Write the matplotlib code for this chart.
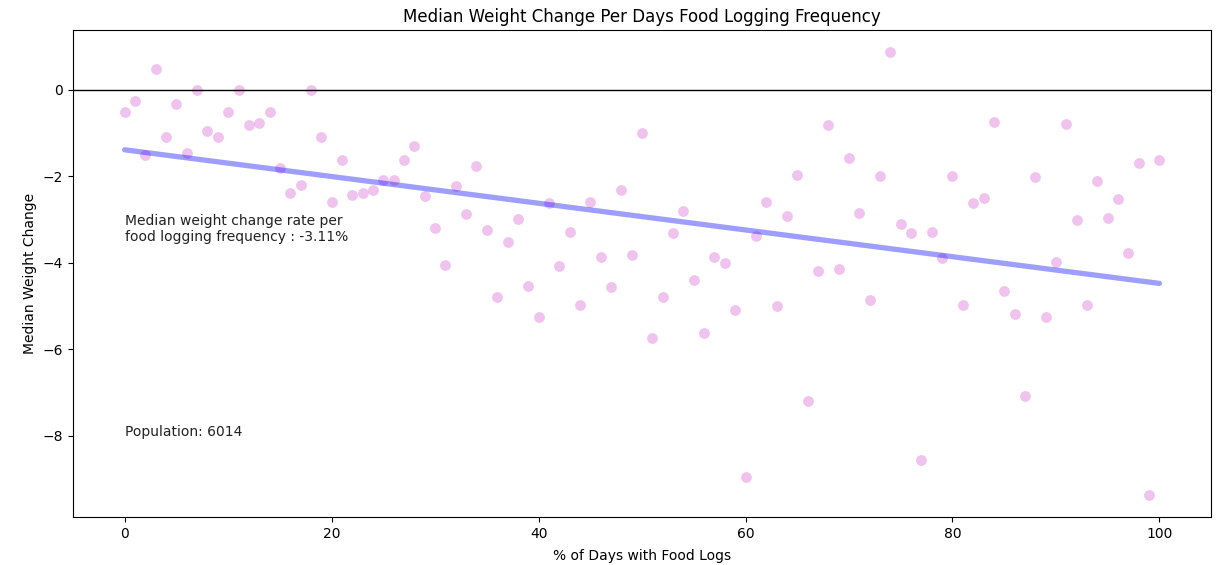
import numpy as np
import matplotlib
matplotlib.use("Agg")
import matplotlib.pyplot as plt

# % of days with food logs (0..100) and median weight change
days_pct = list(range(0, 101))
median_change = [
    -0.51, -0.25, -1.51, 0.49, -1.10, -0.32, -1.47, 0.00, -0.96, -1.10,
    -0.51, 0.00, -0.81, -0.76, -0.51, -1.81, -2.40, -2.20, 0.00, -1.10,
    -2.59, -1.62, -2.44, -2.39, -2.33, -2.08, -2.10, -1.62, -1.30, -2.47,
    -3.19, -4.05, -2.22, -2.88, -1.76, -3.25, -4.80, -3.52, -3.00, -4.54,
    -5.25, -2.61, -4.08, -3.30, -4.98, -2.59, -3.86, -4.57, -2.32, -3.83,
    -1.00, -5.74, -4.79, -3.32, -2.81, -4.39, -5.62, -3.88, -4.01, -5.10,
    -8.96, -3.39, -2.59, -5.00, -2.91, -1.98, -7.20, -4.20, -0.81, -4.15,
    -1.59, -2.85, -4.86, -2.00, 0.87, -3.10, -3.32, -8.57, -3.30, -3.90,
    -2.00, -4.98, -2.61, -2.50, -0.74, -4.66, -5.18, -7.08, -2.01, -5.25,
    -3.99, -0.79, -3.01, -4.98, -2.11, -2.96, -2.52, -3.78, -1.69, -9.37,
    -1.62,
]
# fitted trend line end values (from the chart)
trend_x = [0, 100]
trend_y = [-1.39, -4.48]
rate_pct = -3.11
population = 6014

fig = plt.figure(figsize=(12.16, 5.65), dpi=100)
ax = fig.add_axes([0.06, 0.085, 0.936, 0.862])

ax.scatter(days_pct, median_change, color="orchid", alpha=0.42, s=60, linewidths=0)
ax.plot(trend_x, trend_y, color="blue", alpha=0.38, lw=3.8, solid_capstyle="round")
ax.axhline(0, color="black", lw=1)

ax.text(0, -3.5, "Median weight change rate per\nfood logging frequency : %.2f%%" % rate_pct,
        fontsize=10, color="#222222")
ax.text(0, -8, "Population: %d" % population, fontsize=10, color="#222222")

ax.set_title("Median Weight Change Per Days Food Logging Frequency", fontsize=12)
ax.set_xlabel("% of Days with Food Logs", fontsize=10, labelpad=6)
ax.set_ylabel("Median Weight Change", fontsize=10)
ax.set_yticks([0, -2, -4, -6, -8])

fig.savefig("out.png", dpi=100)
